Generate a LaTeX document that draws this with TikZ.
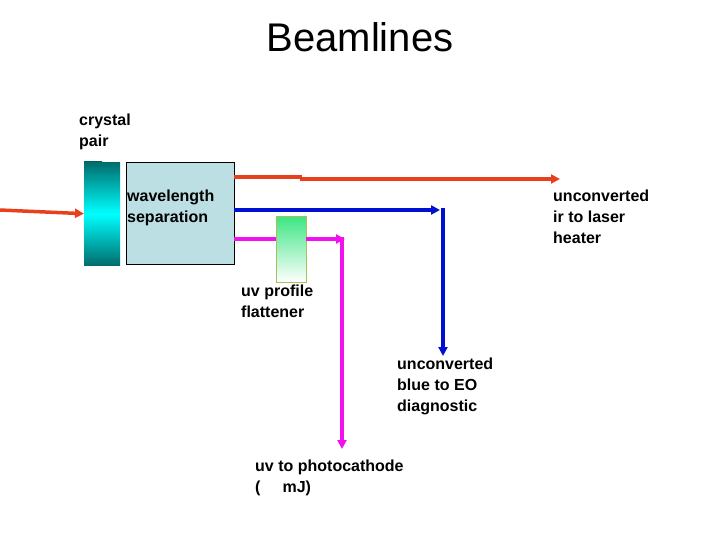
\documentclass[tikz,border=0pt]{standalone}
\usepackage{fontspec}
\setmainfont{Liberation Sans}
\begin{document}
\begin{tikzpicture}[x=1pt,y=-1pt,
  lbl/.style={anchor=north west,align=left,font=\fontsize{16}{21}\selectfont\bfseries,inner sep=0pt},
  beam/.style={line width=3.5pt,-{Triangle[length=9pt,width=9pt]}},
  nbeam/.style={line width=3.5pt}]
\usetikzlibrary{arrows.meta}
\useasboundingbox (0,0) rectangle (720,540);
\definecolor{red1}{HTML}{E8401C}
\definecolor{blu}{HTML}{0010D0}
\definecolor{mag}{HTML}{F010F0}
\node[font=\fontsize{40}{44}\selectfont] (title) at (360,37) {Beamlines};
\node[lbl] (cp) at (79,114) {crystal\\pair};
% crystal
\path[top color=teal!80!black,bottom color=cyan,middle color=cyan] (84,162) rectangle (102,214);
\node[draw=none,minimum width=36pt,minimum height=103pt,inner sep=0pt,anchor=north west,
  top color=teal!85!black,bottom color=teal!85!black,middle color=cyan] (crys) at (84,162) {};
\node[draw=black,fill={rgb,255:red,188;green,223;blue,228},minimum width=108pt,minimum height=102pt,inner sep=0pt,anchor=north west] (box) at (126,162) {};
\node[lbl] (ws) at (127,190) {wavelength\\separation};
\node[draw={rgb,255:red,170;green,190;blue,90},minimum width=30pt,minimum height=66pt,inner sep=0pt,anchor=north west,
  top color={rgb,255:red,60;green,230;blue,130},bottom color=white] (flat) at (276,216) {};
\coordinate (in) at (0,210);
\coordinate (r1) at (300,177);
\coordinate (r2) at (300,179);
\coordinate (rend) at (560,179);
\coordinate (bend) at (443,210);
\coordinate (bend2) at (443,356);
\coordinate (mcor) at (342,239);
\coordinate (mend) at (342,449);
\draw[beam,red1] (in) -- (crys.west);
\draw[nbeam,red1] (box.east |- 0,177) -- (r1) -- (r2);
\draw[beam,red1] (r2) -- (rend);
\draw[beam,blu] (box.east |- 0,210) -- (440,210);
\draw[beam,blu] (443,208.25) -- (bend2);
\draw[nbeam,mag] (box.east |- 0,239) -- (flat.west |- 0,239);
\draw[beam,mag] (flat.east |- 0,239) -- (345,239);
\draw[beam,mag] (342,237.25) -- (mend);
\node[lbl] (ir) at (553,190) {unconverted\\ir to laser\\heater};
\node[lbl] (uvp) at (241,285) {uv profile\\flattener};
\node[lbl] (bl) at (397,358) {unconverted\\blue to EO\\diagnostic};
\node[lbl] (pc) at (255,460) {uv to photocathode\\(\hspace{22pt}mJ)};
\end{tikzpicture}
\end{document}
